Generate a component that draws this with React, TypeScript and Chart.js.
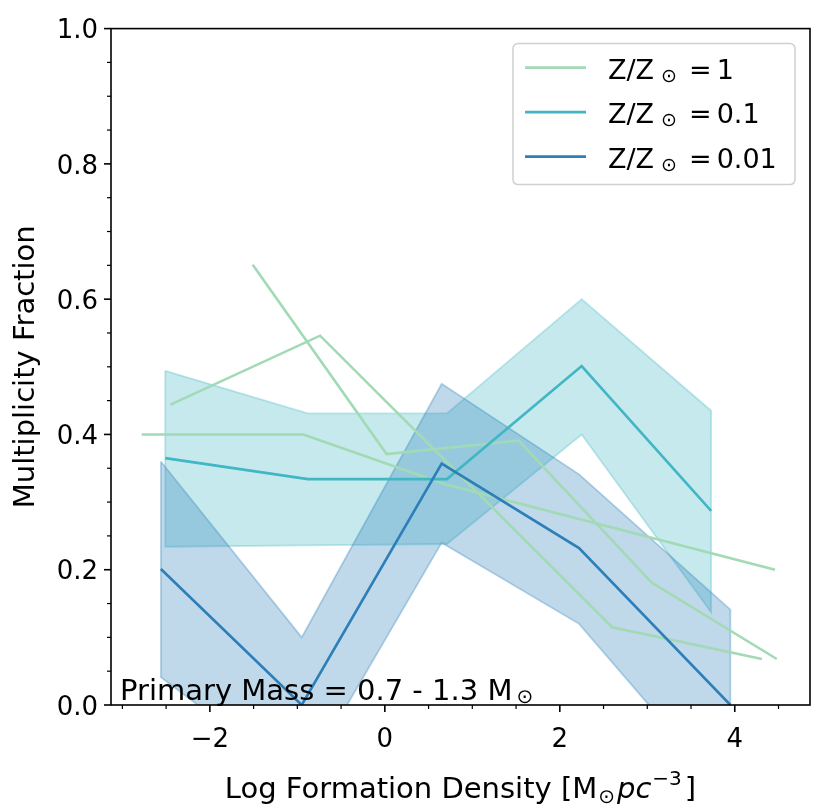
import { useEffect, useRef } from 'react'
import { Chart, registerables } from 'chart.js'

Chart.register(...registerables)

const FONT = '"DejaVu Sans", sans-serif'
const GREEN = '#a1dab4'
const CYAN = '#41b6c4'
const BLUE = '#2c7fb8'

const xRange = [-3.13, 4.86]
const yRange = [0, 1]
const xMajorTicks = [-2, 0, 2, 4]
const xMinorTicks = [-3, -2.5, -1.5, -1, -0.5, 0.5, 1, 1.5, 2.5, 3, 3.5, 4.5]

// Z/Zsun = 1 (three separate runs, same colour)
const solarAX = [-2.78, -0.93, 0.7, 4.46]
const solarAY = [0.4, 0.4, 0.326, 0.2]
const solarBX = [-1.51, 0.02, 1.53, 3.05, 4.48]
const solarBY = [0.651, 0.371, 0.391, 0.181, 0.068]
const solarCX = [-2.45, -0.74, 2.6, 4.31]
const solarCY = [0.444, 0.546, 0.115, 0.068]

// Z/Zsun = 0.1
const tenthX = [-2.51, -0.88, 0.71, 2.25, 3.73]
const tenthY = [0.365, 0.334, 0.334, 0.501, 0.287]
const tenthHi = [0.494, 0.431, 0.431, 0.6, 0.435]
const tenthLo = [0.234, 0.236, 0.238, 0.4, 0.137]

// Z/Zsun = 0.01
const hundredthX = [-2.56, -0.95, 0.65, 2.22, 3.95]
const hundredthY = [0.201, 0.0, 0.357, 0.232, 0.0]
const hundredthHi = [0.36, 0.1, 0.475, 0.341, 0.141]
const hundredthLo = [0.041, -0.115, 0.24, 0.12, -0.14]

const legendLabels = ['1', '0.1', '0.01']
const legendColors = [GREEN, CYAN, BLUE]

const pts = (xs: number[], ys: number[]) => xs.map((x, i) => ({ x, y: ys[i] }))
const polygon = (xs: number[], lo: number[], hi: number[]) => [
  ...pts(xs, hi),
  ...pts(xs, lo).reverse(),
  { x: xs[0], y: hi[0] }
]

const lineSet = (data: any[], color: string, order: number) => ({
  data,
  borderColor: color,
  borderWidth: 2.6,
  pointRadius: 0,
  fill: false,
  tension: 0,
  order
})

const bandSet = (data: any[], rgb: string, order: number) => ({
  data,
  borderColor: `rgba(${rgb},0.32)`,
  backgroundColor: `rgba(${rgb},0.3)`,
  borderWidth: 1.8,
  pointRadius: 0,
  fill: 'shape',
  tension: 0,
  order
})

type Run = { t: string; size: number; dy?: number; gap?: number; italic?: boolean }

const runFont = (r: Run) => `${r.italic ? 'italic ' : ''}${r.size}px ${FONT}`

function runsWidth(ctx: CanvasRenderingContext2D, runs: Run[]) {
  let w = 0
  for (const r of runs) {
    ctx.font = runFont(r)
    w += (r.gap || 0) + ctx.measureText(r.t).width
  }
  return w
}

function drawRuns(ctx: CanvasRenderingContext2D, runs: Run[], x: number, y: number) {
  ctx.textAlign = 'left'
  ctx.textBaseline = 'alphabetic'
  ctx.fillStyle = '#000'
  for (const r of runs) {
    x += r.gap || 0
    ctx.font = runFont(r)
    ctx.fillText(r.t, x, y + (r.dy || 0))
    x += ctx.measureText(r.t).width
  }
}

const framePlugin = {
  id: 'frame',
  afterDraw(chart: any) {
    const { ctx, chartArea: a, scales } = chart
    const x = scales.x
    const y = scales.y
    ctx.save()
    ctx.strokeStyle = '#000'

    ctx.lineWidth = 1.6
    for (const v of xMajorTicks) {
      const px = x.getPixelForValue(v)
      ctx.beginPath(); ctx.moveTo(px, a.bottom); ctx.lineTo(px, a.bottom + 7); ctx.stroke()
    }
    for (let v = 0; v <= 1.0001; v += 0.2) {
      const py = y.getPixelForValue(v)
      ctx.beginPath(); ctx.moveTo(a.left, py); ctx.lineTo(a.left - 7, py); ctx.stroke()
    }
    ctx.lineWidth = 1.2
    for (const v of xMinorTicks) {
      const px = x.getPixelForValue(v)
      ctx.beginPath(); ctx.moveTo(px, a.bottom); ctx.lineTo(px, a.bottom + 4); ctx.stroke()
    }
    for (let k = 1; k < 20; k++) {
      if (k % 4 === 0) continue
      const py = y.getPixelForValue(k * 0.05)
      ctx.beginPath(); ctx.moveTo(a.left, py); ctx.lineTo(a.left - 4, py); ctx.stroke()
    }

    ctx.lineWidth = 1.6
    ctx.strokeRect(a.left, a.top, a.right - a.left, a.bottom - a.top)

    // annotation
    drawRuns(ctx, [
      { t: 'Primary Mass = 0.7 - 1.3 M', size: 29 },
      { t: '\u2299', size: 20, dy: 3, gap: 4 }
    ], a.left + 9, a.bottom - 5)

    // x-axis title
    const title: Run[] = [
      { t: 'Log Formation Density [M', size: 29 },
      { t: '\u2299', size: 20, dy: 5, gap: 1 },
      { t: 'pc', size: 29, italic: true, gap: 2 },
      { t: '\u22123', size: 20, dy: -13, gap: 1 },
      { t: ']', size: 29, gap: 3 }
    ]
    const w = runsWidth(ctx, title)
    drawRuns(ctx, title, (a.left + a.right) / 2 - w / 2, 798)

    // legend
    const bx = a.right - 297
    const by = a.top + 15
    const bw = 282
    const bh = 141
    ctx.beginPath()
    ctx.roundRect(bx, by, bw, bh, 5)
    ctx.fillStyle = 'rgba(255,255,255,0.8)'
    ctx.fill()
    ctx.strokeStyle = '#d0d0d0'
    ctx.lineWidth = 1.5
    ctx.stroke()
    legendLabels.forEach((lab, i) => {
      const rowY = by + 24 + i * 44.5
      ctx.strokeStyle = legendColors[i]
      ctx.lineWidth = 2.6
      ctx.beginPath(); ctx.moveTo(bx + 12, rowY); ctx.lineTo(bx + 73, rowY); ctx.stroke()
      drawRuns(ctx, [
        { t: 'Z/Z', size: 27 },
        { t: '\u2299', size: 19, dy: 3, gap: 7 },
        { t: '=', size: 27, gap: 12 },
        { t: lab, size: 27, gap: 5 }
      ], bx + 95, rowY + 11)
    })
    ctx.restore()
  }
}

export default function App() {
  const canvasRef = useRef<HTMLCanvasElement>(null)

  useEffect(() => {
    if (!canvasRef.current) return
    document.body.style.margin = '0'

    const config: any = {
      type: 'line',
      data: {
        datasets: [
          bandSet(polygon(tenthX, tenthLo, tenthHi), '65,182,196', 21),
          bandSet(polygon(hundredthX, hundredthLo, hundredthHi), '44,127,184', 20),
          lineSet(pts(solarAX, solarAY), GREEN, 10),
          lineSet(pts(solarBX, solarBY), GREEN, 9),
          lineSet(pts(solarCX, solarCY), GREEN, 8),
          lineSet(pts(tenthX, tenthY), CYAN, 7),
          lineSet(pts(hundredthX, hundredthY), BLUE, 5)
        ]
      },
      options: {
        responsive: false,
        animation: false,
        events: [],
        layout: { padding: { top: 25, right: 14, left: 0, bottom: 0 } },
        plugins: {
          legend: { display: false },
          tooltip: { enabled: false }
        },
        scales: {
          x: {
            type: 'linear',
            min: xRange[0],
            max: xRange[1],
            afterBuildTicks: (scale: any) => {
              scale.ticks = xMajorTicks.map(v => ({ value: v }))
            },
            afterFit: (scale: any) => { scale.height = 104 },
            grid: { display: false, drawTicks: false },
            border: { display: false },
            ticks: {
              autoSkip: false,
              maxRotation: 0,
              padding: 20,
              color: '#000',
              font: { family: FONT, size: 26 },
              callback: (v: number) => (v < 0 ? '\u2212' + Math.abs(v) : String(v))
            }
          },
          y: {
            type: 'linear',
            min: yRange[0],
            max: yRange[1],
            afterFit: (scale: any) => { scale.width = 111 },
            grid: { display: false, drawTicks: false },
            border: { display: false },
            ticks: {
              stepSize: 0.2,
              padding: 13,
              labelOffset: 3,
              color: '#000',
              font: { family: FONT, size: 26 },
              callback: (v: number) => v.toFixed(1)
            },
            title: {
              display: true,
              text: 'Multiplicity Fraction',
              color: '#000',
              font: { family: FONT, size: 29 },
              padding: { top: 9, bottom: 0 }
            }
          }
        }
      },
      plugins: [framePlugin]
    }

    const chart = new Chart(canvasRef.current, config)
    return () => chart.destroy()
  }, [])

  return <canvas ref={canvasRef} width={824} height={809} style={{ display: 'block' }} />
}
